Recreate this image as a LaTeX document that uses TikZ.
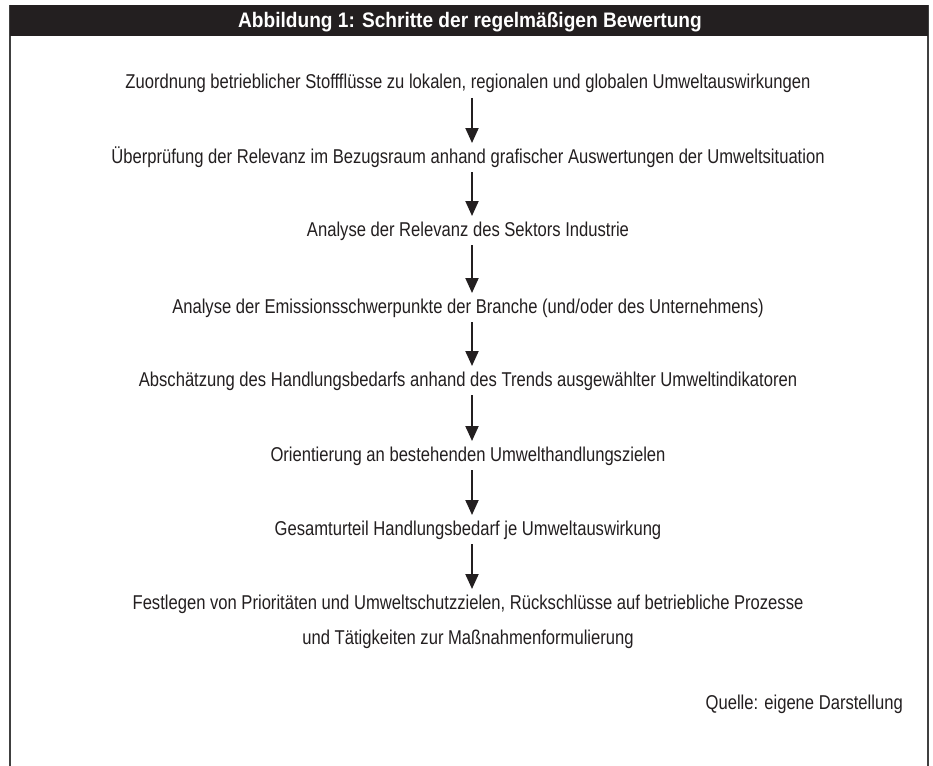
\documentclass[tikz,border=0pt]{standalone}
\usepackage{fontspec}
\setmainfont{Liberation Sans}[FakeStretch=0.83]
\newfontfamily\headfont{Liberation Sans}[FakeStretch=0.91,BoldFont={Liberation Sans Bold}]
\usetikzlibrary{arrows.meta}
\definecolor{barcol}{HTML}{231F20}
\definecolor{framecol}{HTML}{404040}
\tikzset{
  steptext/.style={anchor=base, inner sep=0pt, font=\fontsize{20}{22}\selectfont, text=barcol},
  flowarrow/.style={draw=barcol, line width=2pt, -{Triangle[width=13pt,length=15pt]}},
}
\begin{document}
\begin{tikzpicture}[x=1pt,y=-1pt]
\useasboundingbox (0,0) rectangle (933,765);
\fill[white] (0,0) rectangle (933,765);
% frame
\draw[framecol, line width=1.5pt] (10,5) -- (10,770);
\draw[framecol, line width=1.5pt] (928,5) -- (928,770);
\fill[barcol] (10,5) rectangle (928,36);
\node[anchor=base, inner sep=0pt, text=white, font=\headfont\bfseries\fontsize{21}{24}\selectfont] (title) at (470,28) {Abbildung 1: Schritte der regelmäßigen Bewertung};
% steps
\node[steptext] (s1) at (468,89) {Zuordnung betrieblicher Stoffflüsse zu lokalen, regionalen und globalen Umweltauswirkungen};
\node[steptext] (s2) at (468,163) {Überprüfung der Relevanz im Bezugsraum anhand grafischer Auswertungen der Umweltsituation};
\node[steptext] (s3) at (468,236) {Analyse der Relevanz des Sektors Industrie};
\node[steptext] (s4) at (468,313) {Analyse der Emissionsschwerpunkte der Branche (und/oder des Unternehmens)};
\node[steptext] (s5) at (468,386) {Abschätzung des Handlungsbedarfs anhand des Trends ausgewählter Umweltindikatoren};
\node[steptext] (s6) at (468,461) {Orientierung an bestehenden Umwelthandlungszielen};
\node[steptext] (s7) at (468,535) {Gesamturteil Handlungsbedarf je Umweltauswirkung};
\node[steptext] (s8) at (468,609) {Festlegen von Prioritäten und Umweltschutzzielen, Rückschlüsse auf betriebliche Prozesse};
\node[steptext] (s8b) at (468,644) {und Tätigkeiten zur Maßnahmenformulierung};
\node[steptext, anchor=base east] (src) at (903,709) {Quelle: eigene Darstellung};
% arrows
\foreach \a/\b in {s1/s2,s2/s3,s3/s4,s4/s5,s5/s6,s6/s7,s7/s8}{
  \draw[flowarrow] ([xshift=4pt,yshift=-9pt]\a.base) -- ([xshift=4pt,yshift=20pt]\b.base);
}
\end{tikzpicture}
\end{document}
